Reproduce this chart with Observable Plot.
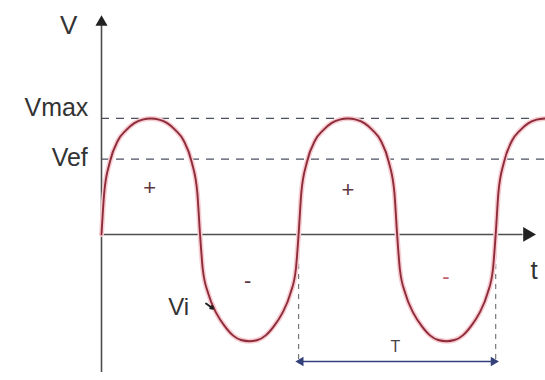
<!DOCTYPE html>
<html>
<head>
<meta charset="utf-8">
<script src="https://cdn.jsdelivr.net/npm/d3@7"></script>
<script src="https://cdn.jsdelivr.net/npm/@observablehq/plot@0.6"></script>
<style>
  html, body { margin: 0; padding: 0; background: #fff; }
  #chart svg { display: block; }
</style>
</head>
<body>
<div id="chart"></div>
<script>
// Phase in degrees (one period T = 360°) and voltage relative to Vmax
const phase = [
  0, 5, 15, 30, 45, 60, 75, 90, 105, 120, 135, 150, 165, 175,
  180, 185, 195, 210, 225, 240, 255, 270, 285, 300, 315, 330, 345, 355,
  360, 365, 375, 390, 405, 420, 435, 450, 465, 480, 495, 510, 525, 535,
  540, 545, 555, 570, 585, 600, 615, 630, 645, 660, 675, 690, 705, 715,
  720, 725, 735, 750, 765, 780, 795, 810
];
const voltage = [
  0, 0.36, 0.62, 0.81, 0.90, 0.96, 0.99, 1, 0.99, 0.96, 0.90, 0.81, 0.62, 0.36,
  0, -0.30, -0.51, -0.68, -0.79, -0.87, -0.91, -0.92, -0.91, -0.87, -0.79, -0.68, -0.51, -0.30,
  0, 0.36, 0.62, 0.81, 0.90, 0.96, 0.99, 1, 0.99, 0.96, 0.90, 0.81, 0.62, 0.36,
  0, -0.30, -0.51, -0.68, -0.79, -0.87, -0.91, -0.92, -0.91, -0.87, -0.79, -0.68, -0.51, -0.30,
  0, 0.36, 0.62, 0.81, 0.90, 0.96, 0.99, 1
];
const levelLabels = ["Vmax", "Vef"];
const levelValues = [1, 0.65];
const periodStarts = [360, 720];
const signLabels = ["+", "-", "+", "-"];
const signPhase = [88, 267, 450, 629];
const signValue = [0.40, -0.40, 0.38, -0.37];

const wave = phase.map((p, i) => ({p, v: voltage[i]}));
const levels = levelLabels.map((l, i) => ({label: l, v: levelValues[i]}));
const signs = signLabels.map((s, i) => ({s, p: signPhase[i], v: signValue[i]}));

const font = "Liberation Sans, Arial, sans-serif";
const axisColor = "#4d4d4d";
const dashColor = "#4a5060";
const curveColor = "#8e2c3a";
const navy = "#34407a";

const chart = Plot.plot({
  width: 545,
  height: 380,
  marginLeft: 101,
  marginRight: 0,
  marginTop: 0,
  marginBottom: 0,
  style: {fontFamily: font, background: "#fff"},
  x: {domain: [0, 811], axis: null},
  y: {domain: [-1.259, 2.017], axis: null},
  marks: [
    // reference levels (dashed)
    Plot.ruleY(levels, {y: "v", x1: 0, x2: 811, stroke: dashColor, strokeWidth: 1.3, strokeDasharray: "8,7"}),
    // period markers
    Plot.ruleX(periodStarts, {x: d => d, y1: 0, y2: -1.12, stroke: "#777", strokeWidth: 1.2, strokeDasharray: "5,5"}),
    // axes
    Plot.ruleX([0], {y1: -1.19, y2: 1.80, stroke: axisColor, strokeWidth: 1.6}),
    Plot.ruleY([0], {x1: 0, x2: 770, stroke: axisColor, strokeWidth: 1.6}),
    Plot.dot([0], {x: 0, y: 1.83, symbol: "triangle", r: 4.5, fill: "#222", stroke: "none"}),
    Plot.dot([0], {x: 778, y: 0, symbol: "triangle", r: 5.5, rotate: 90, fill: "#222", stroke: "none"}),
    // wave glow + wave
    Plot.line(wave, {x: "p", y: "v", curve: "monotone-x", stroke: "#f7ccd2", strokeWidth: 5}),
    Plot.line(wave, {x: "p", y: "v", curve: "monotone-x", stroke: curveColor, strokeWidth: 1.9}),
    // period T arrow
    Plot.ruleY([-1.095], {x1: 364, x2: 716, stroke: navy, strokeWidth: 1.5}),
    Plot.dot([0], {x: 364, y: -1.095, symbol: "triangle", r: 3.5, rotate: -90, fill: navy, stroke: "none"}),
    Plot.dot([0], {x: 716, y: -1.095, symbol: "triangle", r: 3.5, rotate: 90, fill: navy, stroke: "none"}),
    Plot.text(["T"], {x: 537, y: -0.97, text: d => d, fontSize: 16, fill: "#444", fontFamily: font}),
    // level labels
    Plot.text(levels.slice(0, 1), {x: -24, y: 1.09, text: "label", textAnchor: "end", fontSize: 25, fill: "#333", fontFamily: font}),
    Plot.text(levels.slice(1), {x: -25, y: 0.66, text: "label", textAnchor: "end", fontSize: 25, fill: "#333", fontFamily: font}),
    // axis names
    Plot.text(["V"], {x: -60, y: 1.80, text: d => d, fontSize: 26, fill: "#333", fontFamily: font}),
    Plot.text(["t"], {x: 790, y: -0.31, text: d => d, fontSize: 26, fill: "#333", fontFamily: font}),
    // signs
    Plot.text(signs, {x: "p", y: "v", text: "s", fontSize: 22, fill: (d, i) => i === 3 ? "#c0606c" : "#5e3840", fontFamily: font}),
    // instantaneous value
    Plot.text(["Vi"], {x: 122, y: -0.63, text: d => d, textAnchor: "start", fontSize: 24, fill: "#333", fontFamily: font}),
    Plot.arrow([0], {x1: 191, y1: -0.595, x2: 204, y2: -0.64, stroke: "#222", strokeWidth: 2, headLength: 6})
  ]
});
document.getElementById("chart").appendChild(chart);
</script>
</body>
</html>
